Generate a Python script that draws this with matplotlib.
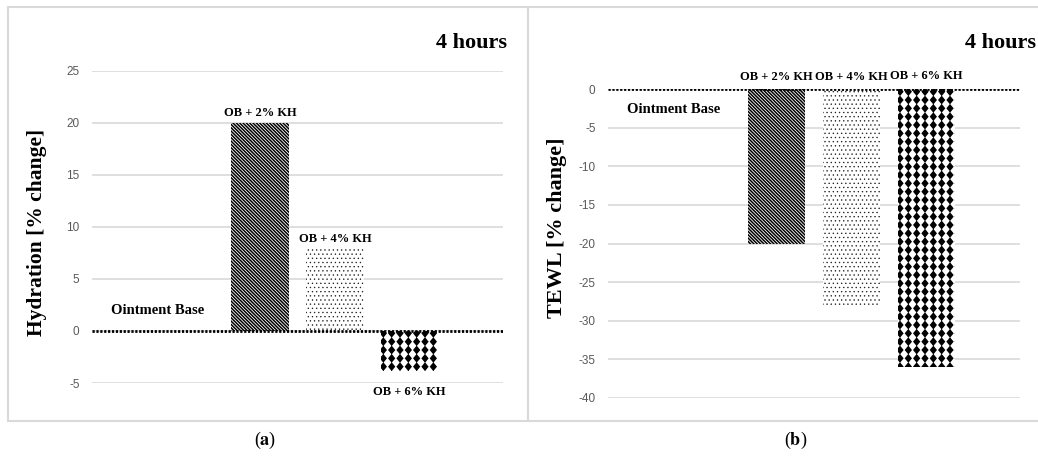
import warnings
import numpy as np
import matplotlib
matplotlib.use("Agg")
import matplotlib.pyplot as plt
from matplotlib import hatch as mhatch
from matplotlib.path import Path
from matplotlib.patches import Rectangle
from matplotlib import font_manager as fm

warnings.filterwarnings("ignore", category=matplotlib.MatplotlibDeprecationWarning)

# ---- data -------------------------------------------------------------
groups = ["Ointment Base", "OB + 2% KH", "OB + 4% KH", "OB + 6% KH"]
hydration = [0.0, 20.0, 7.9, -3.8]
tewl = [0.0, -20.0, -28.0, -36.0]
hydration_ticks = [-5, 0, 5, 10, 15, 20, 25]
tewl_ticks = [-40, -35, -30, -25, -20, -15, -10, -5, 0]
panel_time = "4 hours"


# ---- a square-grid diamond hatch ("d") ---------------------------------
class DiamondHatch(mhatch.HatchPatternBase):
    def __init__(self, hatch, density):
        self.num_rows = hatch.count("d") * int(density)
        self.num_vertices = (self.num_rows + 1) ** 2 * 5 if self.num_rows else 0

    def set_vertices_and_codes(self, vertices, codes):
        step = 1.0 / self.num_rows
        hw, hh = 0.33 * step, 0.40 * step
        shape = np.array([[0, hh], [-hw, 0], [0, -hh], [hw, 0], [0, hh]])
        scodes = [Path.MOVETO, Path.LINETO, Path.LINETO, Path.LINETO,
                  Path.CLOSEPOLY]
        k = 0
        for r in range(self.num_rows + 1):
            for c in range(self.num_rows + 1):
                vertices[k:k + 5] = shape + [c * step, r * step]
                codes[k:k + 5] = scodes
                k += 5


mhatch._hatch_types.append(DiamondHatch)

names = {f.name for f in fm.fontManager.ttflist}
tick_family = "Liberation Sans Narrow" if "Liberation Sans Narrow" in names else "Liberation Sans"

plt.rcParams["font.family"] = "Liberation Serif"
plt.rcParams["mathtext.fontset"] = "stix"

hatches = [None, "\\" * 10, "....", "dd"]
hatch_colors = ["black", "black", "#222222", "black"]
hatch_widths = [1.0, 1.1, 0.45, 1.0]
grid_color = "#d9d9d9"

fig = plt.figure(figsize=(10.38, 4.57), dpi=100)

# panel frames
for x0, w in [(8, 520), (528, 520)]:
    fig.add_artist(Rectangle((x0 / 1038, 1 - 421 / 457), w / 1038, 414 / 457,
                             transform=fig.transFigure, fill=False,
                             edgecolor=grid_color, linewidth=1.5, zorder=0))

ax_a = fig.add_axes([92 / 1038, 1 - 383 / 457, 411 / 1038, 312.3 / 457])
ax_b = fig.add_axes([608 / 1038, 1 - 398 / 457, 412 / 1038, 309 / 457])

x = np.arange(len(groups))
width = 0.77


def style_axis(ax, ticks, ylim):
    ax.set_ylim(*ylim)
    ax.set_xlim(-1.25, len(groups) - 1 + 1.25)
    ax.set_yticks(ticks)
    ax.set_yticklabels([str(t) for t in ticks], family=tick_family,
                       fontsize=8.5, color="#595959")
    ax.tick_params(axis="y", length=0, pad=9)
    ax.set_xticks([])
    for s in ax.spines.values():
        s.set_visible(False)
    ax.grid(axis="y", color=grid_color, linewidth=1.2)
    ax.set_axisbelow(True)
    ax.axhline(0, color="black", linewidth=2.0, linestyle=(0, (0.8, 0.6)),
               zorder=5)


def draw_bars(ax, values):
    for i, v in enumerate(values):
        if v == 0:
            continue
        with plt.rc_context({"hatch.linewidth": hatch_widths[i]}):
            bars = ax.bar(x[i], v, width, color="white",
                          edgecolor=hatch_colors[i], linewidth=0,
                          hatch=hatches[i], zorder=3)
        for b in bars:
            if hasattr(b, "set_hatch_linewidth"):
                b.set_hatch_linewidth(hatch_widths[i])


# ---- (a) Hydration ---------------------------------------------------
style_axis(ax_a, hydration_ticks, (-5, 25))
draw_bars(ax_a, hydration)
lab = dict(fontsize=9, fontweight="bold", ha="center")
ax_a.annotate(groups[0], (x[0], 0), xytext=(-20, 10), textcoords="offset points",
              fontsize=10.5, fontweight="bold", ha="center", va="bottom")
ax_a.annotate(groups[1], (x[1], hydration[1]), xytext=(0, 3),
              textcoords="offset points", va="bottom", **lab)
ax_a.annotate(groups[2], (x[2], hydration[2]), xytext=(0, 3),
              textcoords="offset points", va="bottom", **lab)
ax_a.annotate(groups[3], (x[3], hydration[3]), xytext=(0, -11),
              textcoords="offset points", va="top", **lab)

# ---- (b) TEWL --------------------------------------------------------
style_axis(ax_b, tewl_ticks, (-40, 0))
draw_bars(ax_b, tewl)
ax_b.annotate(groups[0], (x[0], 0), xytext=(-20, -10), textcoords="offset points",
              fontsize=10.5, fontweight="bold", ha="center", va="top",
              annotation_clip=False)
for i in (1, 2, 3):
    ax_b.annotate(groups[i], (x[i], 0), xytext=(0, 4 if i < 3 else 5),
                  textcoords="offset points", va="bottom",
                  annotation_clip=False, **lab)

# ---- titles, axis labels, captions ------------------------------------
fig.text(507 / 1038, 1 - 43 / 457, panel_time, ha="right", va="center",
         fontsize=16, fontweight="bold")
fig.text(1036 / 1038, 1 - 43 / 457, panel_time, ha="right", va="center",
         fontsize=16, fontweight="bold")
fig.text(37 / 1038, 1 - 232 / 457, "Hydration [% change]", rotation=90,
         ha="center", va="center", fontsize=15.5, fontweight="bold")
fig.text(557 / 1038, 1 - 228 / 457, "TEWL [% change]", rotation=90,
         ha="center", va="center", fontsize=16, fontweight="bold")
fig.text(265 / 1038, 1 - 440 / 457, r"($\mathbf{a}$)", ha="center",
         va="center", fontsize=13)
fig.text(796 / 1038, 1 - 440 / 457, r"($\mathbf{b}$)", ha="center",
         va="center", fontsize=13)

fig.savefig("out.png", dpi=100)
